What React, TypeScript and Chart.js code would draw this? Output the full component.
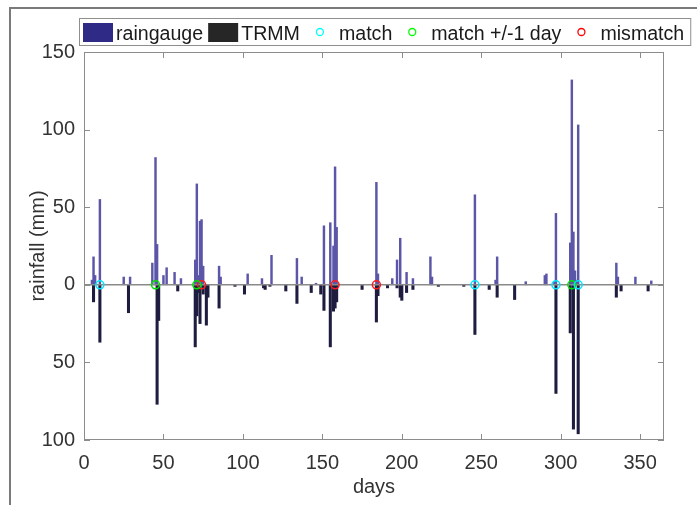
import React, { useEffect, useRef } from 'react';
import { Chart, registerables } from 'chart.js';
Chart.register(...registerables);

const rgDays = [5, 6, 7, 10, 25, 29, 43, 45, 46, 50, 52, 57, 61, 70, 71, 72, 73, 74, 75, 85, 86, 103, 112, 118, 134, 137, 146, 151, 155, 157, 158, 159, 184, 185, 194, 197, 199, 203, 207, 218, 219, 246, 259, 260, 278, 290, 291, 296, 297, 306, 307, 308, 309, 310, 311, 335, 336, 347, 357];
const rgValues = [3, 18, 6, 55, 5, 5, 14, 82, 26, 6, 11, 8, 4, 16, 65, 6, 41, 42, 12, 12, 5, 7, 4, 19, 17, 5, 1, 38, 40, 25, 76, 37, 66, 7, 4, 16, 30, 8, 4, 18, 5, 58, 3, 18, 2, 6, 7, 2, 46, 27, 132, 34, 9, 3, 103, 14, 5, 5, 2.5];

const trmmDays = [6, 10, 28, 46, 47, 59, 70, 71, 72, 73, 75, 77, 78, 85, 95, 101, 113, 114, 117, 127, 134, 143, 149, 151, 155, 157, 158, 159, 175, 184, 185, 191, 197, 199, 200, 203, 207, 223, 239, 246, 255, 260, 271, 297, 306, 308, 311, 335, 338, 355];
const trmmValues = [-11, -37, -18, -77, -23, -4, -40, -20, -5, -25, -6, -26, -8, -15, -1, -6, -2, -3, -1, -4, -12, -5, -6, -16.5, -40, -17, -15, -11, -3, -24, -7, -2, -2, -8, -10, -5, -3, -1, -1, -32, -3, -8, -9.5, -70, -31, -93, -96, -8, -4, -4];

const matchDays = [10, 246, 297, 311];
const matchPm1Days = [45, 71, 307];
const mismatchDays = [74, 158, 184];

const xTicks = [0, 50, 100, 150, 200, 250, 300, 350];
const yTicks = [-100, -50, 0, 50, 100, 150];

const FONT = '"Liberation Sans", Arial, sans-serif';
const TEXT = '#333333';

const legendItems = [
  { kind: 'rect', color: '#2f2a85', label: 'raingauge' },
  { kind: 'rect', color: '#262626', label: 'TRMM' },
  { kind: 'circle', color: '#00ffff', label: 'match' },
  { kind: 'circle', color: '#00ff00', label: 'match +/-1 day' },
  { kind: 'circle', color: '#ff0000', label: 'mismatch' },
];

const legendPlugin = {
  id: 'boxLegend',
  afterDraw(chart: any) {
    const ctx = chart.ctx;
    ctx.save();
    ctx.font = `19.6px ${FONT}`;
    const left = 79, top = 18, h = 27;
    let x = left + 4;
    const parts: any[] = [];
    legendItems.forEach((it, i) => {
      if (it.kind === 'rect') {
        if (i > 0) x += 5;
        parts.push({ type: 'rect', x, color: it.color });
        x += 30 + 3;
      } else {
        x += 20;
        parts.push({ type: 'circle', x, color: it.color });
        x += 19;
      }
      const w = ctx.measureText(it.label).width;
      parts.push({ type: 'text', x, label: it.label });
      x += w;
    });
    const right = x + 6;
    ctx.fillStyle = '#ffffff';
    ctx.fillRect(left, top, right - left, h);
    ctx.strokeStyle = '#8f8f8f';
    ctx.lineWidth = 1;
    ctx.strokeRect(left + 0.5, top + 0.5, right - left, h);
    parts.forEach((p) => {
      if (p.type === 'rect') {
        ctx.fillStyle = p.color;
        ctx.fillRect(p.x, top + 5, 30, 19);
      } else if (p.type === 'circle') {
        ctx.strokeStyle = p.color;
        ctx.lineWidth = 1.3;
        ctx.beginPath();
        ctx.arc(p.x, top + 14, 3.5, 0, Math.PI * 2);
        ctx.stroke();
      } else {
        ctx.fillStyle = '#1a1a1a';
        ctx.textBaseline = 'alphabetic';
        ctx.textAlign = 'left';
        ctx.fillText(p.label, p.x, top + 22);
      }
    });
    ctx.restore();
  },
};

const boxPlugin = {
  id: 'matlabBox',
  afterDatasetsDraw(chart: any) {
    const { ctx, chartArea } = chart;
    const { left, right, top, bottom } = chartArea;
    const xs = chart.scales.x;
    const ys = chart.scales.y;
    ctx.save();
    ctx.strokeStyle = '#8c8c8c';
    ctx.lineWidth = 1;
    ctx.strokeRect(left + 0.5, top + 0.5, right - left - 1, bottom - top - 1);
    ctx.beginPath();
    const tl = 6;
    xTicks.forEach((v) => {
      const px = Math.round(xs.getPixelForValue(v)) + 0.5;
      ctx.moveTo(px, bottom);
      ctx.lineTo(px, bottom - tl);
      ctx.moveTo(px, top);
      ctx.lineTo(px, top + tl);
    });
    yTicks.forEach((v) => {
      const py = Math.round(ys.getPixelForValue(v)) + 0.5;
      ctx.moveTo(left, py);
      ctx.lineTo(left + tl, py);
      ctx.moveTo(right, py);
      ctx.lineTo(right - tl, py);
    });
    ctx.stroke();
    ctx.restore();
  },
};

export default function App() {
  const ref = useRef<HTMLCanvasElement>(null);
  useEffect(() => {
    if (!ref.current) return;
    const circle = (days: number[], color: string) => ({
      type: 'scatter' as const,
      data: days.map((d) => ({ x: d, y: 0 })),
      showLine: false,
      pointRadius: 4,
      pointBorderWidth: 1.5,
      pointBorderColor: color,
      pointBackgroundColor: 'rgba(0,0,0,0)',
      borderColor: color,
      backgroundColor: 'rgba(0,0,0,0)',
      order: 0,
    });
    const chart = new Chart(ref.current, {
      type: 'bar',
      data: {
        datasets: [
          {
            type: 'bar',
            label: 'raingauge',
            data: rgDays.map((d, i) => ({ x: d, y: rgValues[i] })),
            backgroundColor: '#5b56a8',
            barThickness: 1.8,
            grouped: false,
            order: 3,
          } as any,
          {
            type: 'bar',
            label: 'TRMM',
            data: trmmDays.map((d, i) => ({ x: d, y: trmmValues[i] })),
            backgroundColor: '#1e1d40',
            barThickness: 2.4,
            grouped: false,
            order: 2,
          } as any,
          {
            type: 'line',
            label: 'zero',
            data: [{ x: 0, y: 0 }, { x: 365, y: 0 }],
            borderColor: '#8a8a8a',
            borderWidth: 1.6,
            pointRadius: 0,
            order: 1,
          } as any,
          { label: 'match', ...circle(matchDays, '#00e5ff') } as any,
          { label: 'match +/-1 day', ...circle(matchPm1Days, '#00e000') } as any,
          { label: 'mismatch', ...circle(mismatchDays, '#ff1a1a') } as any,
        ],
      },
      options: {
        responsive: false,
        animation: false,
        layout: { padding: { left: 0, top: 52, right: 33, bottom: 0 } },
        plugins: { legend: { display: false }, tooltip: { enabled: false } },
        scales: {
          x: {
            type: 'linear',
            min: 0,
            max: 365,
            offset: false,
            grid: { display: false, drawTicks: false },
            border: { display: false },
            afterBuildTicks: (s: any) => {
              s.ticks = xTicks.map((v) => ({ value: v }));
            },
            afterFit: (s: any) => {
              s.height = 65;
            },
            ticks: { font: { family: FONT, size: 20 }, color: TEXT, padding: 11, maxRotation: 0, autoSkip: false },
            title: { display: true, text: 'days', font: { family: FONT, size: 20 }, color: TEXT, padding: { top: 0, bottom: 6 } },
          },
          y: {
            min: -100,
            max: 150,
            grid: { display: false, drawTicks: false },
            border: { display: false },
            afterBuildTicks: (s: any) => {
              s.ticks = yTicks.map((v) => ({ value: v }));
            },
            afterFit: (s: any) => {
              s.width = 84;
            },
            ticks: {
              font: { family: FONT, size: 20 },
              color: TEXT,
              padding: 9,
              callback: (v: any) => String(Math.abs(Number(v))),
            },
            title: { display: true, text: 'rainfall (mm)', font: { family: FONT, size: 20 }, color: TEXT, padding: { top: 26, bottom: 0 } },
          },
        },
      },
      plugins: [boxPlugin, legendPlugin],
    });
    return () => chart.destroy();
  }, []);
  return (
    <div style={{ position: 'absolute', left: 0, top: 0, width: 697, height: 505, background: '#fff', overflow: 'hidden' }}>
      <div style={{ position: 'absolute', left: 9, top: 7, width: 688, height: 2, background: '#7a7a7a' }} />
      <div style={{ position: 'absolute', left: 9, top: 7, width: 2, height: 498, background: '#7a7a7a' }} />
      <canvas ref={ref} width={697} height={505} style={{ position: 'absolute', left: 0, top: 0, width: 697, height: 505 }} />
    </div>
  );
}
